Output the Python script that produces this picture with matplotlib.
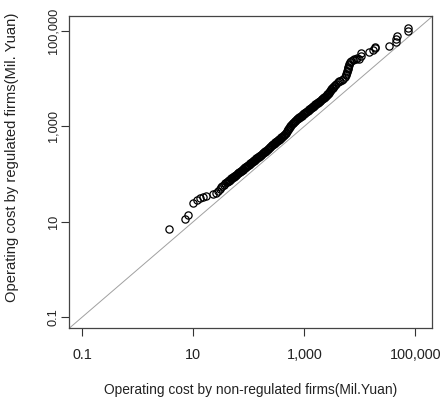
import numpy as np
import matplotlib
matplotlib.use("Agg")
import matplotlib.pyplot as plt

# cuantiles, en log10 (decadas)
# tramo bajo, puntos sueltos
low_x = [0.562, 0.850, 0.910, 1.000, 1.072, 1.120, 1.180, 1.228, 1.354, 1.408,
         1.450, 1.475, 1.500, 1.525, 1.550, 1.575]
low_y = [0.852, 1.056, 1.140, 1.385, 1.454, 1.490, 1.524, 1.538, 1.580, 1.601,
         1.652, 1.688, 1.724, 1.755, 1.779, 1.802]

# tramo central, muy denso (banda negra)
mid_x = [
    1.6000, 1.6125, 1.6250, 1.6375, 1.6500, 1.6625, 1.6750, 1.6875,
    1.7000, 1.7125, 1.7250, 1.7375, 1.7500, 1.7625, 1.7750, 1.7875,
    1.8000, 1.8125, 1.8250, 1.8375, 1.8500, 1.8625, 1.8750, 1.8875,
    1.9000, 1.9125, 1.9250, 1.9375, 1.9500, 1.9625, 1.9750, 1.9875,
    2.0000, 2.0125, 2.0250, 2.0375, 2.0500, 2.0625, 2.0750, 2.0875,
    2.1000, 2.1125, 2.1250, 2.1375, 2.1500, 2.1625, 2.1750, 2.1875,
    2.2000, 2.2125, 2.2250, 2.2375, 2.2500, 2.2625, 2.2750, 2.2875,
    2.3000, 2.3125, 2.3250, 2.3375, 2.3500, 2.3625, 2.3750, 2.3875,
    2.4000, 2.4125, 2.4250, 2.4375, 2.4500, 2.4625, 2.4750, 2.4875,
    2.5000, 2.5125, 2.5250, 2.5375, 2.5500, 2.5625, 2.5750, 2.5875,
    2.6000, 2.6125, 2.6250, 2.6375, 2.6500, 2.6625, 2.6750, 2.6875,
    2.7000, 2.7125, 2.7250, 2.7375, 2.7500, 2.7625, 2.7750, 2.7875,
    2.8000, 2.8125, 2.8250, 2.8375, 2.8500, 2.8625, 2.8750, 2.8875,
    2.9000, 2.9125, 2.9250, 2.9375, 2.9500, 2.9625, 2.9750, 2.9875,
    3.0000, 3.0125, 3.0250, 3.0375, 3.0500, 3.0625, 3.0750, 3.0875,
    3.1000, 3.1125, 3.1250, 3.1375, 3.1500, 3.1625, 3.1750, 3.1875,
    3.2000, 3.2125, 3.2250, 3.2375, 3.2500, 3.2625, 3.2750, 3.2875,
    3.3000, 3.3125, 3.3250, 3.3375, 3.3500, 3.3625, 3.3750, 3.3875,
    3.4000, 3.4125, 3.4250, 3.4375, 3.4500, 3.4625, 3.4750, 3.4875,
    3.5000, 3.5125, 3.5250, 3.5375, 3.5500,
]
mid_y = [
    1.825, 1.837, 1.848, 1.860, 1.872, 1.883, 1.895, 1.907,
    1.918, 1.930, 1.941, 1.953, 1.965, 1.976, 1.988, 2.000,
    2.011, 2.023, 2.034, 2.046, 2.058, 2.069, 2.081, 2.092,
    2.104, 2.116, 2.127, 2.139, 2.151, 2.162, 2.174, 2.185,
    2.197, 2.209, 2.220, 2.232, 2.244, 2.255, 2.267, 2.278,
    2.290, 2.302, 2.313, 2.325, 2.337, 2.348, 2.360, 2.372,
    2.383, 2.395, 2.406, 2.418, 2.430, 2.441, 2.453, 2.464,
    2.476, 2.488, 2.499, 2.515, 2.530, 2.544, 2.559, 2.574,
    2.588, 2.603, 2.615, 2.627, 2.639, 2.650, 2.662, 2.674,
    2.685, 2.697, 2.708, 2.720, 2.732, 2.743, 2.755, 2.767,
    2.779, 2.794, 2.808, 2.822, 2.837, 2.851, 2.870, 2.894,
    2.918, 2.942, 2.967, 2.986, 3.005, 3.024, 3.044, 3.060,
    3.075, 3.089, 3.104, 3.118, 3.133, 3.145, 3.156, 3.168,
    3.180, 3.191, 3.203, 3.214, 3.226, 3.238, 3.249, 3.261,
    3.273, 3.284, 3.296, 3.307, 3.319, 3.331, 3.342, 3.354,
    3.366, 3.377, 3.389, 3.400, 3.412, 3.424, 3.435, 3.447,
    3.459, 3.470, 3.482, 3.493, 3.505, 3.517, 3.528, 3.540,
    3.552, 3.563, 3.575, 3.586, 3.598, 3.610, 3.621, 3.633,
    3.651, 3.669, 3.687, 3.705, 3.723, 3.741, 3.759, 3.777,
    3.795, 3.814, 3.832, 3.849, 3.864,
]

# tramo alto, puntos mas separados
high_x = [3.575, 3.600, 3.625, 3.650, 3.675, 3.700, 3.725, 3.745, 3.757,
          3.769, 3.775, 3.781, 3.787, 3.793, 3.799, 3.805, 3.823, 3.841,
          3.868, 3.895, 3.922, 3.949, 3.985, 4.021, 4.021, 4.165, 4.237,
          4.273, 4.273, 4.525, 4.652, 4.652, 4.670, 4.868, 4.868]
high_y = [3.893, 3.922, 3.940, 3.955, 3.970, 3.997, 4.026, 4.070, 4.100,
          4.140, 4.170, 4.200, 4.223, 4.250, 4.280, 4.307, 4.340, 4.370,
          4.390, 4.412, 4.422, 4.433, 4.402, 4.475, 4.528, 4.559, 4.601,
          4.633, 4.674, 4.680, 4.769, 4.832, 4.884, 4.989, 5.052]

tick_vals = [0.1, 10, 1000, 100000]
tick_labels = ["0.1", "10", "1,000", "100,000"]

x = np.power(10.0, low_x + mid_x + high_x)
y = np.power(10.0, low_y + mid_y + high_y)

plt.rcParams["font.family"] = ["Liberation Sans", "DejaVu Sans"]

fig = plt.figure(figsize=(4.42, 4.03), dpi=100)
ax = fig.add_axes([69 / 442, 1 - 328 / 403, 363 / 442, 312 / 403])
ax.set_xscale("log")
ax.set_yscale("log")
ax.set_xlim(10 ** -1.240, 10 ** 5.300)
ax.set_ylim(10 ** -1.231, 10 ** 5.314)

# linea de igualdad
ax.plot([1e-3, 1e7], [1e-3, 1e7], color="#a0a0a0", lw=0.7, zorder=1)
ax.plot(x, y, linestyle="none", marker="o", markersize=5.2,
        markerfacecolor="none", markeredgecolor="black",
        markeredgewidth=0.9, zorder=2)

ax.set_xticks(tick_vals)
ax.set_xticklabels(tick_labels)
ax.set_yticks(tick_vals)
ax.set_yticklabels(tick_labels, rotation=90, va="center")
ax.minorticks_off()
ax.tick_params(axis="both", direction="out", length=5.5, width=0.8,
               color="#333333", labelcolor="#222222")
ax.tick_params(axis="x", labelsize=10.4, pad=9)
ax.tick_params(axis="y", labelsize=9.2, pad=1)
for s in ax.spines.values():
    s.set_color("#444444")
    s.set_linewidth(0.9)

fig.text(250.5 / 442, 1 - 390 / 403,
         "Operating cost by non-regulated firms(Mil.Yuan)",
         ha="center", va="center", fontsize=9.95, color="#222222")
fig.text(12 / 442, 1 - 157.5 / 403,
         "Operating cost by regulated firms(Mil. Yuan)",
         ha="center", va="center", rotation=90, fontsize=10.6,
         color="#222222")

fig.savefig("out.png", dpi=100)
